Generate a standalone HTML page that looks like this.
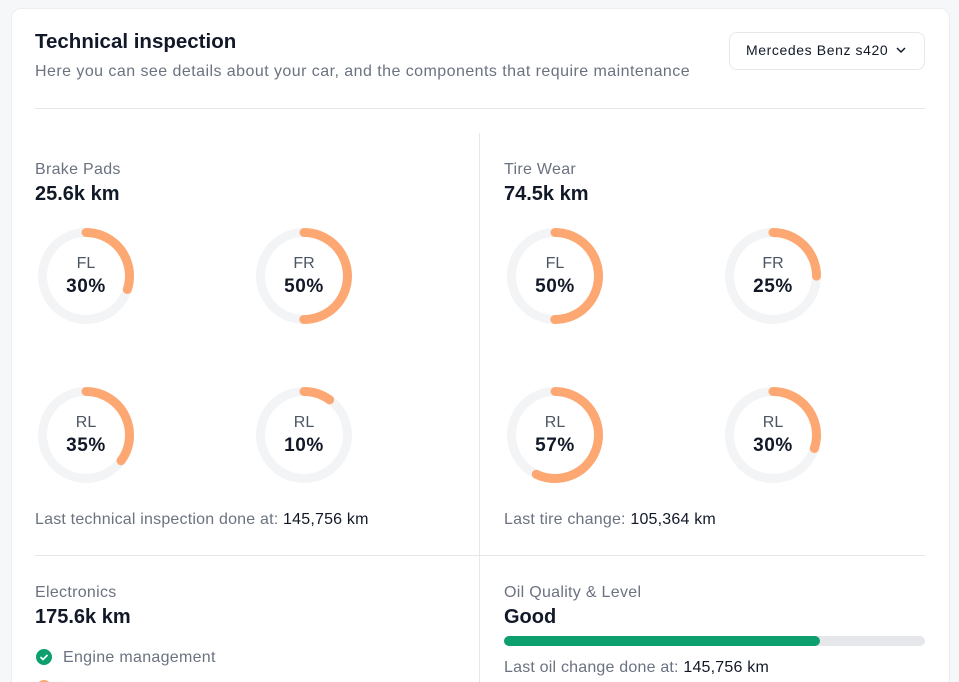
<!DOCTYPE html>
<html style="overflow:hidden"><head><style>
html,body{margin:0;width:959px;height:682px;overflow:hidden}
body{background:#f6f7f9;font-family:"Liberation Sans",sans-serif;position:relative}
.card{position:absolute;left:11px;top:8px;width:937px;height:690px;background:#fff;border-radius:10px;border:1px solid #eceef1}
.t{position:absolute;white-space:nowrap;line-height:1}
.g{color:#6b7280}
.b{color:#111827;font-weight:bold}
.ln{position:absolute;background:#e5e7eb}
</style></head><body>
<div class="card"></div>
<div class="t b" style="left:35px;top:32px;font-size:20.5px">Technical inspection</div>
<div class="t g" style="left:35px;top:64px;font-size:16px;letter-spacing:0.45px">Here you can see details about your car, and the components that require maintenance</div>
<div style="position:absolute;left:729px;top:32px;width:194px;height:36px;border:1px solid #e5e7eb;border-radius:8px"></div>
<div class="t" style="left:746px;top:43px;font-size:14px;letter-spacing:0.6px;color:#111827">Mercedes Benz s420</div>
<svg style="position:absolute;left:895px;top:44px" width="12" height="12"><path d="M2 4l4 4 4-4" fill="none" stroke="#111827" stroke-width="1.5"/></svg>
<div class="ln" style="left:35px;top:108px;width:890px;height:1px"></div>
<div class="ln" style="left:479px;top:133px;width:1px;height:560px"></div>
<div class="ln" style="left:35px;top:555px;width:890px;height:1px"></div>

<div class="t g" style="left:35px;top:162px;font-size:16px;letter-spacing:0.3px">Brake Pads</div>
<div class="t b" style="left:35px;top:184px;font-size:20px">25.6k km</div>
<div class="t g" style="left:504px;top:162px;font-size:16px;letter-spacing:0.3px">Tire Wear</div>
<div class="t b" style="left:504px;top:184px;font-size:20px">74.5k km</div>

<svg style="position:absolute;left:0;top:0" width="959" height="682">
<g fill="none" stroke-width="9" stroke-linecap="round">
<g stroke="#f3f4f6">
<circle cx="86" cy="276" r="43.5"/><circle cx="304" cy="276" r="43.5"/>
<circle cx="555" cy="276" r="43.5"/><circle cx="773" cy="276" r="43.5"/>
<circle cx="86" cy="435" r="43.5"/><circle cx="304" cy="435" r="43.5"/>
<circle cx="555" cy="435" r="43.5"/><circle cx="773" cy="435" r="43.5"/>
</g>
<g stroke="#fda872">
<circle cx="86" cy="276" r="43.5" transform="rotate(-90 86 276)" style="stroke-dasharray:82 300"/>
<circle cx="304" cy="276" r="43.5" transform="rotate(-90 304 276)" style="stroke-dasharray:136.7 300"/>
<circle cx="555" cy="276" r="43.5" transform="rotate(-90 555 276)" style="stroke-dasharray:136.7 300"/>
<circle cx="773" cy="276" r="43.5" transform="rotate(-90 773 276)" style="stroke-dasharray:68.3 300"/>
<circle cx="86" cy="435" r="43.5" transform="rotate(-90 86 435)" style="stroke-dasharray:95.7 300"/>
<circle cx="304" cy="435" r="43.5" transform="rotate(-90 304 435)" style="stroke-dasharray:27.3 300"/>
<circle cx="555" cy="435" r="43.5" transform="rotate(-90 555 435)" style="stroke-dasharray:155.8 300"/>
<circle cx="773" cy="435" r="43.5" transform="rotate(-90 773 435)" style="stroke-dasharray:82 300"/>
</g></g>
<g font-family="Liberation Sans, sans-serif" text-anchor="middle">
<g fill="#4b5563" font-size="16">
<text x="86" y="268">FL</text><text x="304" y="268">FR</text><text x="555" y="268">FL</text><text x="773" y="268">FR</text>
<text x="86" y="427">RL</text><text x="304" y="427">RL</text><text x="555" y="427">RL</text><text x="773" y="427">RL</text>
</g>
<g fill="#111827" font-size="19" font-weight="bold" letter-spacing="0.6">
<text x="86" y="292">30%</text><text x="304" y="292">50%</text><text x="555" y="292">50%</text><text x="773" y="292">25%</text>
<text x="86" y="451">35%</text><text x="304" y="451">10%</text><text x="555" y="451">57%</text><text x="773" y="451">30%</text>
</g></g>
<circle cx="44" cy="657" r="8" fill="#0e9f6e"/>
<path d="M40.5 657l2.5 2.5 4.5-4.5" fill="none" stroke="#fff" stroke-width="1.6"/>
<circle cx="44" cy="688" r="8" fill="#fda872"/>
</svg>

<div class="t g" style="left:35px;top:512px;font-size:16px;letter-spacing:0.2px">Last technical inspection done at: <span style="color:#111827">145,756 km</span></div>
<div class="t g" style="left:504px;top:512px;font-size:16px;letter-spacing:0.2px">Last tire change: <span style="color:#111827">105,364 km</span></div>

<div class="t g" style="left:35px;top:585px;font-size:16px;letter-spacing:0.3px">Electronics</div>
<div class="t b" style="left:35px;top:607px;font-size:20px">175.6k km</div>
<div class="t g" style="left:63px;top:650px;font-size:16px;letter-spacing:0.3px">Engine management</div>

<div class="t g" style="left:504px;top:585px;font-size:16px;letter-spacing:0.3px">Oil Quality &amp; Level</div>
<div class="t b" style="left:504px;top:607px;font-size:20px">Good</div>
<div style="position:absolute;left:504px;top:636px;width:421px;height:10px;border-radius:5px;background:#e5e7eb"><div style="width:316px;height:10px;border-radius:5px;background:#0e9f6e"></div></div>
<div class="t g" style="left:504px;top:660px;font-size:16px;letter-spacing:0.2px">Last oil change done at: <span style="color:#111827">145,756 km</span></div>
</body></html>
